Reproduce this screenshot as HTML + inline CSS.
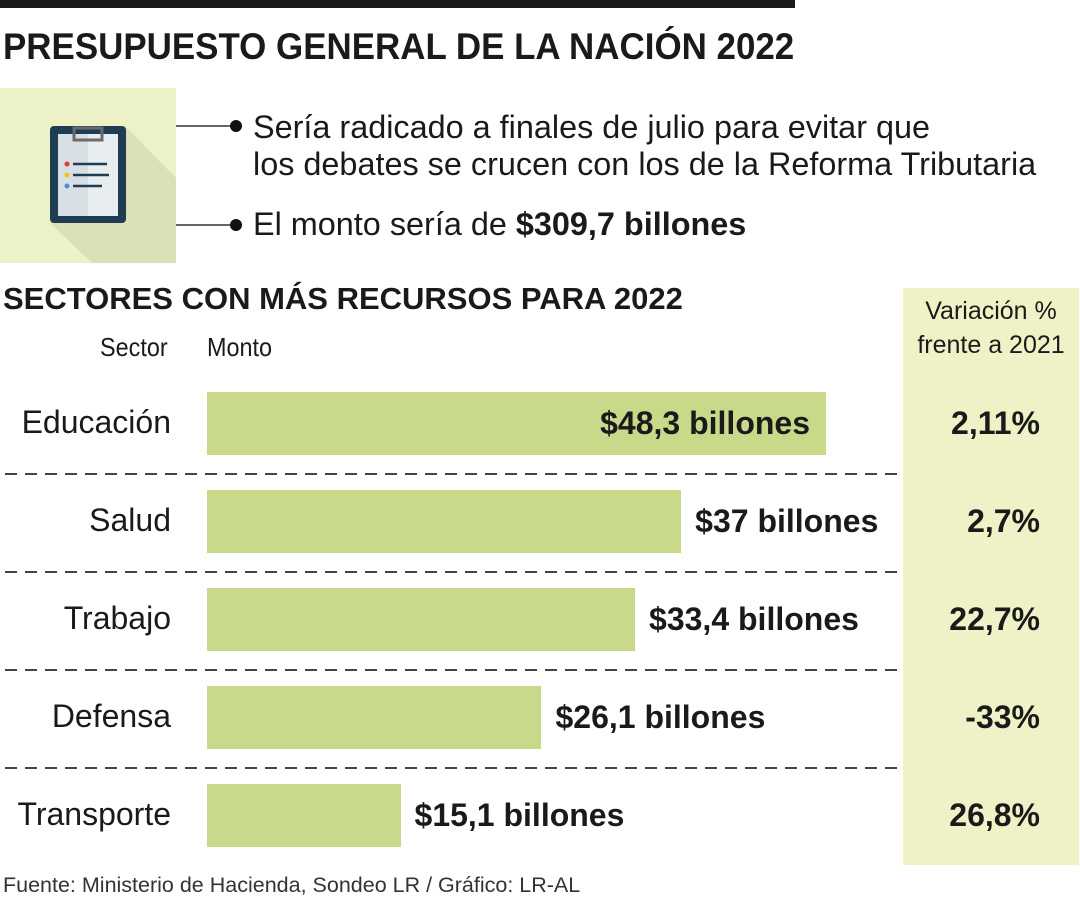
<!DOCTYPE html>
<html><head><meta charset="utf-8"><style>
body{margin:0;width:1080px;height:900px;background:#fff;position:relative;overflow:hidden;font-family:"Liberation Sans Narrow","Liberation Sans",sans-serif;color:#1a1a1a}
.a{position:absolute;white-space:nowrap}
</style></head><body>
<div class="a" style="left:0;top:0;width:795px;height:8px;background:#1a1a1a"></div>
<div class="a" style="left:3px;top:26px;font-size:37px;font-weight:bold;transform:scaleX(0.944);transform-origin:left top">PRESUPUESTO GENERAL DE LA NACIÓN 2022</div>
<svg class="a" style="left:0;top:88px" width="176" height="175">
<rect width="176" height="175" fill="#edf1c8"/>
<polygon points="125,38 176,90 176,175 92,175 50,135" fill="#dbe0b6"/>
<rect x="50" y="38" width="76" height="97" rx="4" fill="#1e3d52"/>
<rect x="58" y="46" width="60" height="82" fill="#e8edf0"/>
<rect x="58" y="46" width="30" height="82" fill="#d8dfe4"/>
<rect x="74" y="40" width="28" height="12" fill="none" stroke="#6a6a6a" stroke-width="3"/>
<circle cx="67" cy="76" r="2.5" fill="#e53935"/><line x1="73" y1="76" x2="107" y2="76" stroke="#1e3d52" stroke-width="2.5"/>
<circle cx="67" cy="87" r="2.5" fill="#f4c20d"/><line x1="73" y1="87" x2="109" y2="87" stroke="#1e3d52" stroke-width="2.5"/>
<circle cx="67" cy="98" r="2.5" fill="#4a90d9"/><line x1="73" y1="98" x2="102" y2="98" stroke="#1e3d52" stroke-width="2.5"/>
</svg>
<svg class="a" style="left:176px;top:115px" width="70" height="120">
<line x1="0" y1="11" x2="60" y2="11" stroke="#333" stroke-width="1.5"/><circle cx="60" cy="11" r="6" fill="#111"/>
<line x1="0" y1="110" x2="60" y2="110" stroke="#333" stroke-width="1.5"/><circle cx="60" cy="110" r="6" fill="#111"/>
</svg>
<div class="a" style="left:253px;top:109px;font-size:32.4px;line-height:37px">Sería radicado a finales de julio para evitar que<br>los debates se crucen con los de la Reforma Tributaria</div>
<div class="a" style="left:253px;top:206px;font-size:32.4px">El monto sería de <b>$309,7 billones</b></div>
<div class="a" style="left:903px;top:288px;width:176px;height:577px;background:#eef2c6"></div>
<div class="a" style="left:3px;top:281px;font-size:31px;font-weight:bold">SECTORES CON MÁS RECURSOS PARA 2022</div>
<div class="a" style="left:100px;top:332px;font-size:26px;transform:scaleX(0.9);transform-origin:left top">Sector</div>
<div class="a" style="left:207px;top:332px;font-size:26px;transform:scaleX(0.9);transform-origin:left top">Monto</div>
<div class="a" style="left:903px;top:294px;width:176px;text-align:center;font-size:25px;line-height:34px">Variación %<br>frente a 2021</div>
<div id="chart"></div>
<div class="a" style="left:3px;top:873px;font-size:21.5px;color:#333">Fuente: Ministerio de Hacienda, Sondeo LR / Gráfico: LR-AL</div>
<script>
const categories=["Educación","Salud","Trabajo","Defensa","Transporte"];
const values=[48.3,37,33.4,26.1,15.1];
const valueLabels=["$48,3 billones","$37 billones","$33,4 billones","$26,1 billones","$15,1 billones"];
const variations=["2,11%","2,7%","22,7%","-33%","26,8%"];
const x0=207,pxPer=(826-207)/48.3,top0=392,pitch=98,bh=63;
const xs=v=>x0+v*pxPer;
const c=document.getElementById('chart');
function mk(style,text){const d=document.createElement('div');d.className='a';d.style.cssText=style;if(text!==undefined)d.textContent=text;c.appendChild(d);return d;}
categories.forEach((cat,i)=>{
 const y=top0+i*pitch,w=xs(values[i])-x0;
 const b=mk(`left:${x0}px;top:${y}px;width:${w}px;height:${bh}px;background:#c8d98a`);
 
 
 const l=mk(`right:${1080-171}px;top:${y+12}px;font-size:32px`,cat);
 
 
 const inside=w>500;
 const v=mk(inside?`right:${1080-(x0+w-16)}px;top:${y+13}px;font-size:32px;font-weight:bold`:`left:${x0+w+14}px;top:${y+13}px;font-size:32px;font-weight:bold`,valueLabels[i]);
 
 
 const p=mk(`right:${1080-1040}px;top:${y+13}px;font-size:32px;font-weight:bold`,variations[i]);
 
 
 if(i<categories.length-1){
  const s=mk(`left:5px;top:${y+bh+18}px;width:895px;height:1.5px;background:repeating-linear-gradient(90deg,#444 0 12px,transparent 12px 20px)`);
  
  
 }
});
</script>
</body></html>
